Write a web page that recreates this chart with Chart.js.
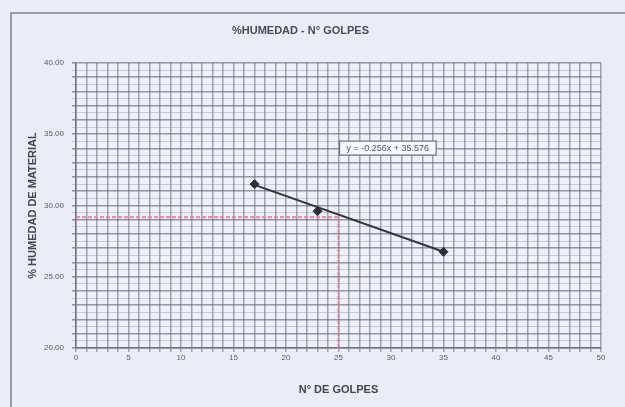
<!DOCTYPE html>
<html><head><meta charset="utf-8">
<script src="https://cdn.jsdelivr.net/npm/chart.js@4.4.1/dist/chart.umd.min.js"></script>
<style>html,body{margin:0;padding:0;background:#eaecf7;}#wrap{width:625px;height:407px;}</style>
</head><body><div id="wrap"><canvas id="c" width="625" height="407"></canvas></div>
<script>
const chartTitle = '%HUMEDAD - N° GOLPES';
const xTitle = 'N° DE GOLPES';
const yTitle = '% HUMEDAD DE MATERIAL';
const golpes = [17, 23, 35];
const humedad = [31.5, 29.6, 26.75];
const trendX = [17, 35];
const trendY = [31.45, 26.75];
const equationText = 'y = -0.256x + 35.576';
const targetGolpes = 25;
const targetHumedad = 29.18;
const xMin = 0, xMax = 50, yMin = 20, yMax = 40;

const FONT = '"Liberation Sans", Arial, sans-serif';

const framePlugin = {
  id: 'frame',
  beforeDraw(chart) {
    const ctx = chart.ctx, a = chart.chartArea;
    ctx.save();
    ctx.fillStyle = '#eaecf7';
    ctx.fillRect(0, 0, chart.width, chart.height);
    ctx.fillStyle = '#eef0fa';
    ctx.fillRect(a.left, a.top, a.right - a.left, a.bottom - a.top);
    ctx.strokeStyle = '#9a9cab';
    ctx.lineWidth = 2;
    ctx.beginPath();
    ctx.moveTo(11, chart.height);
    ctx.lineTo(11, 13);
    ctx.lineTo(chart.width, 13);
    ctx.stroke();
    ctx.restore();
  },
  afterDatasetsDraw(chart) {
    const ctx = chart.ctx, xs = chart.scales.x, ys = chart.scales.y;
    const cx = xs.getPixelForValue(29.7), cy = ys.getPixelForValue(34.03);
    ctx.save();
    ctx.font = '9px ' + FONT;
    const w = ctx.measureText(equationText).width + 14;
    ctx.fillStyle = '#f7f8fd';
    ctx.fillRect(cx - w / 2, cy - 7, w, 14);
    ctx.strokeStyle = '#6e7080';
    ctx.lineWidth = 1.2;
    ctx.strokeRect(cx - w / 2, cy - 7, w, 14);
    ctx.fillStyle = '#505260';
    ctx.textAlign = 'center';
    ctx.textBaseline = 'middle';
    ctx.fillText(equationText, cx, cy + 0.5);
    ctx.restore();
  }
};

new Chart(document.getElementById('c'), {
  type: 'scatter',
  data: {
    datasets: [
      {
        label: 'ref-h',
        data: [{x: xMin, y: targetHumedad}, {x: targetGolpes, y: targetHumedad}],
        showLine: true, borderColor: 'rgba(238,125,155,0.85)', borderWidth: 2.2,
        borderDash: [4, 2], pointRadius: 0, order: 3
      },
      {
        label: 'ref-v',
        data: [{x: targetGolpes, y: yMin}, {x: targetGolpes, y: targetHumedad}],
        showLine: true, borderColor: 'rgba(238,125,155,0.85)', borderWidth: 2.2,
        borderDash: [4, 2], pointRadius: 0, order: 3
      },
      {
        label: 'trend',
        data: trendX.map((x, i) => ({x, y: trendY[i]})),
        showLine: true, borderColor: '#33343d', borderWidth: 2, pointRadius: 0, order: 2
      },
      {
        label: 'datos',
        data: golpes.map((x, i) => ({x, y: humedad[i]})),
        showLine: false, pointStyle: 'rectRot', pointRadius: 4.5,
        backgroundColor: '#2e2f38', borderColor: '#2e2f38', order: 1
      }
    ]
  },
  options: {
    responsive: false, animation: false, devicePixelRatio: 1,
    layout: {padding: {left: 0, right: 24, top: 0, bottom: 0}},
    plugins: {
      legend: {display: false}, tooltip: {enabled: false},
      title: {
        display: true, text: chartTitle, color: '#4a4b58',
        font: {family: FONT, size: 11, weight: 'bold'},
        padding: {top: 24, bottom: 25.8}
      }
    },
    scales: {
      x: {
        type: 'linear', min: xMin, max: xMax,
        afterFit(s) { s.height = 59; },
        grid: {
          color: 'rgba(95,100,118,0.55)', lineWidth: 1.5, tickLength: 4,
          drawTicks: true
        },
        border: {color: '#6f7282', width: 1.5},
        ticks: {
          stepSize: 1, autoSkip: false, maxRotation: 0, padding: 1,
          color: '#5a5c6a',
          font: {family: FONT, size: 8},
          callback: v => (v % 5 === 0 ? String(v) : '')
        },
        title: {
          display: true, text: xTitle, color: '#44454f',
          font: {family: FONT, size: 11, weight: 'bold'},
          padding: {top: 0, bottom: 10}
        }
      },
      y: {
        type: 'linear', min: yMin, max: yMax,
        afterFit(s) { s.width = 76; },
        grid: {
          color: ctx => (ctx.tick && Number.isInteger(ctx.tick.value) ? 'rgba(90,95,112,0.62)' : 'rgba(110,115,130,0.3)'),
          lineWidth: ctx => (ctx.tick && Number.isInteger(ctx.tick.value) ? 1.6 : 1),
          tickLength: 4
        },
        border: {color: '#6f7282', width: 1.5},
        ticks: {
          stepSize: 0.5, autoSkip: false, padding: 8,
          color: '#5a5c6a',
          font: {family: FONT, size: 8},
          callback: v => (v % 5 === 0 ? v.toFixed(2) : '')
        },
        title: {
          display: true, text: yTitle, color: '#44454f',
          font: {family: FONT, size: 11, weight: 'bold'},
          padding: {top: 26, bottom: 0}
        }
      }
    }
  },
  plugins: [framePlugin]
});
</script>
</body></html>
